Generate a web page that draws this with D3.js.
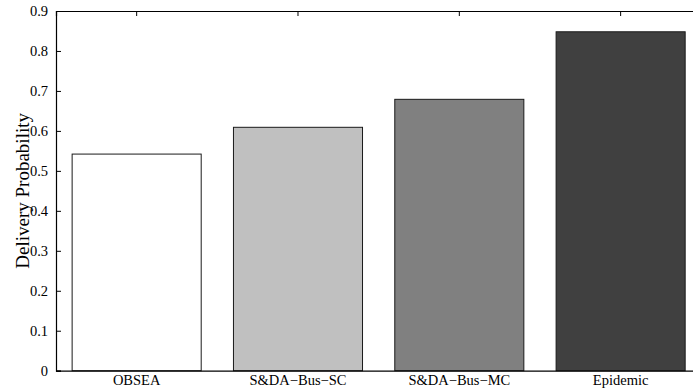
<!DOCTYPE html>
<html>
<head>
<meta charset="utf-8">
<script src="https://cdn.jsdelivr.net/npm/d3@7"></script>
<style>
  html, body { margin: 0; padding: 0; background: #fff; }
  svg { display: block; }
  text { font-family: "Liberation Serif", "Times New Roman", serif; fill: #000; }
</style>
</head>
<body>
<div id="chart"></div>
<script>
// Delivery probability per routing scheme
const categories = ["OBSEA", "S&DA\u2212Bus\u2212SC", "S&DA\u2212Bus\u2212MC", "Epidemic"];
const values = [0.542, 0.609, 0.679, 0.848];
const barColors = ["#ffffff", "#c0c0c0", "#808080", "#404040"];
const yTicks = [0, 0.1, 0.2, 0.3, 0.4, 0.5, 0.6, 0.7, 0.8, 0.9];
const yLabel = "Delivery Probability";

const W = 693, H = 392;
const plot = { left: 56, right: 701.3, top: 11, bottom: 370.7 };

const svg = d3.select("#chart").append("svg")
  .attr("width", W).attr("height", H);

const x = d3.scaleBand()
  .domain(categories)
  .range([plot.left, plot.right])
  .paddingInner(0.2)
  .paddingOuter(0.1);

const y = d3.scaleLinear()
  .domain([0, 0.9])
  .range([plot.bottom, plot.top]);

// bars
svg.append("g").selectAll("rect")
  .data(categories)
  .join("rect")
  .attr("x", d => x(d))
  .attr("width", x.bandwidth())
  .attr("y", (d, i) => y(values[i]))
  .attr("height", (d, i) => y(0) - y(values[i]))
  .attr("fill", (d, i) => barColors[i])
  .attr("stroke", "#1a1a1a")
  .attr("stroke-width", 1);

// left axis with inward ticks
const yAxis = d3.axisLeft(y)
  .tickValues(yTicks)
  .tickSize(-5)
  .tickPadding(8)
  .tickFormat(d => d === 0 ? "0" : d3.format(".1f")(d));
const gy = svg.append("g")
  .attr("transform", `translate(${plot.left},0)`)
  .call(yAxis);
gy.select(".domain").attr("stroke", "#000").attr("stroke-width", 1.2);
gy.selectAll(".tick line").attr("stroke", "#000").attr("stroke-width", 1);
gy.selectAll(".tick text")
  .style("font-family", "'Liberation Serif', serif")
  .style("font-size", "14.5px");

// bottom axis: labels only, baseline line
const xAxis = d3.axisBottom(x).tickSize(0).tickPadding(4.5);
const gx = svg.append("g")
  .attr("transform", `translate(0,${plot.bottom})`)
  .call(xAxis);
gx.select(".domain").attr("stroke", "#000").attr("stroke-width", 1.2);
gx.selectAll(".tick text")
  .style("font-family", "'Liberation Serif', serif")
  .style("font-size", "14.5px");

// top box edge with inward ticks
const xTop = d3.axisTop(x).tickSize(-5).tickFormat("");
const gt = svg.append("g")
  .attr("transform", `translate(0,${plot.top})`)
  .call(xTop);
gt.select(".domain").attr("stroke", "#000").attr("stroke-width", 1.2);
gt.selectAll(".tick line").attr("stroke", "#000").attr("stroke-width", 1);

// right box edge
svg.append("line")
  .attr("x1", plot.right).attr("x2", plot.right)
  .attr("y1", plot.top).attr("y2", plot.bottom)
  .attr("stroke", "#000").attr("stroke-width", 1.2);

// y axis title
svg.append("text")
  .attr("transform", `translate(29,${(plot.top + plot.bottom) / 2}) rotate(-90)`)
  .attr("text-anchor", "middle")
  .style("font-size", "19px")
  .text(yLabel);
</script>
</body>
</html>
